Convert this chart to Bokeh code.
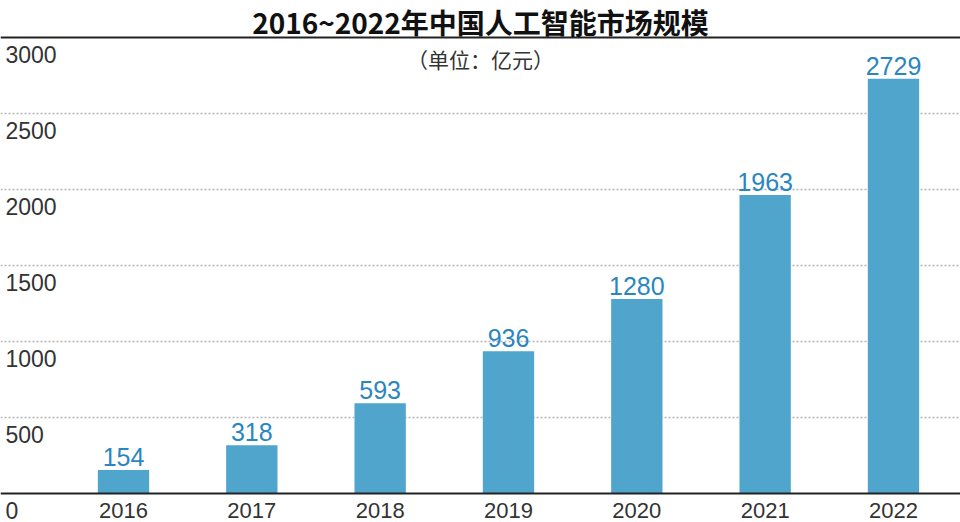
from bokeh.plotting import figure
from bokeh.models import Range1d, FixedTicker, ColumnDataSource, LabelSet, Span
from bokeh.core.properties import value
from bokeh.embed import file_html
from bokeh.resources import INLINE

years = ["2016", "2017", "2018", "2019", "2020", "2021", "2022"]
values = [154, 318, 593, 936, 1280, 1963, 2729]
y_ticks = [0, 500, 1000, 1500, 2000, 2500, 3000]
title_text = "2016~2022年中国人工智能市场规模"
subtitle_text = "（单位：亿元）"

BAR = "#4fa5cc"
VAL = "#2a86bf"
NUM_FONT = value("Liberation Sans")
CJK_FONT = value("Noto Sans CJK SC")

W, H = 960, 522
# layout (pixels): category pitch / first centre, value axis top and baseline
pitch, first_c = 128.33, 123.0
top_px, base_px = 37.0, 493.0
ppu = (base_px - top_px) / y_ticks[-1]

idx = list(range(len(years)))
x0 = -first_c / pitch
x1 = (W - first_c) / pitch
y1 = y_ticks[-1] + top_px / ppu
y0 = -(H - base_px) / ppu

p = figure(width=W, height=H, output_backend="svg", toolbar_location=None,
           x_range=Range1d(x0, x1), y_range=Range1d(y0, y1),
           min_border_left=0, min_border_right=0, min_border_top=0, min_border_bottom=0)
p.outline_line_color = None
p.background_fill_color = "white"
p.border_fill_color = "white"
p.xaxis.visible = False
p.yaxis.visible = False
p.xgrid.grid_line_color = None
p.ygrid.ticker = FixedTicker(ticks=y_ticks[1:-1])
p.ygrid.grid_line_color = "#b5b5b5"
p.ygrid.grid_line_dash = "2 2"
p.ygrid.grid_line_width = 1.5

src = ColumnDataSource(dict(x=idx, top=values, label=[str(v) for v in values], year=years))
p.vbar(x="x", top="top", width=0.4, bottom=0, source=src, fill_color=BAR, line_color=None)

# baseline and top rule
p.add_layout(Span(location=y_ticks[0], dimension="width", line_color="#222222", line_width=2))
p.add_layout(Span(location=y_ticks[-1], dimension="width", line_color="#222222", line_width=2))

# value labels
p.add_layout(LabelSet(x="x", y="top", text="label", source=src, text_align="center",
                      text_baseline="alphabetic", y_offset=4, text_color=VAL,
                      text_font=NUM_FONT, text_font_size="25px"))

# category labels
p.add_layout(LabelSet(x="x", y=y_ticks[0], text="year", source=src, text_align="center",
                      text_baseline="alphabetic", y_offset=-24, text_color="#333333",
                      text_font=NUM_FONT, text_font_size="22px"))

# value-axis labels (below each grid line)
ysrc = ColumnDataSource(dict(y=y_ticks, label=[str(t) for t in y_ticks]))
p.add_layout(LabelSet(x=5, x_units="screen", y="y", text="label", source=ysrc,
                      text_align="left", text_baseline="top", y_offset=-8,
                      text_color="#333333", text_font=NUM_FONT, text_font_size="23px"))

# title and subtitle
tsrc = ColumnDataSource(dict(x=[(x0 + x1) / 2], y=[y_ticks[-1]], t=[title_text], s=[subtitle_text]))
p.add_layout(LabelSet(x="x", y="y", text="t", source=tsrc, text_align="center",
                      text_baseline="middle", y_offset=16, text_color="#111111",
                      text_font=CJK_FONT, text_font_size="28px", text_font_style="bold"))
p.add_layout(LabelSet(x="x", y="y", text="s", source=tsrc, text_align="center",
                      text_baseline="middle", y_offset=-21, text_color="#333333",
                      text_font=CJK_FONT, text_font_size="21px"))

open("out.html", "w").write(file_html(p, INLINE))
